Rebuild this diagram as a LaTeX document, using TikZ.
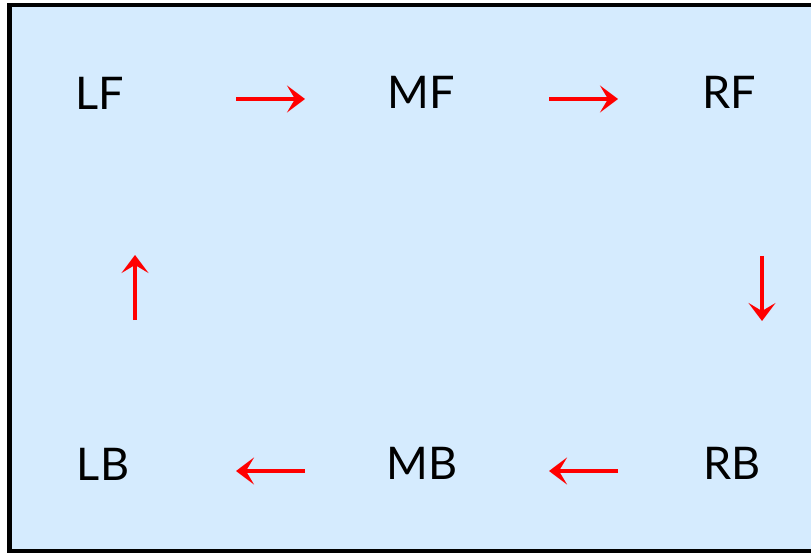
\documentclass[tikz,border=0pt]{standalone}
\usepackage{fontspec}
\setmainfont{Lato}
\usetikzlibrary{arrows.meta}
\definecolor{panelblue}{RGB}{213,235,254}
\definecolor{arrowred}{RGB}{255,0,0}
\tikzset{
  lbl/.style={font=\fontsize{45}{50}\selectfont, text=black, inner sep=0pt},
  flow/.style={draw=arrowred, line width=3.6pt, -{Stealth[length=18pt,width=27pt,inset=8pt]}}
}
\begin{document}
\begin{tikzpicture}[x=1pt,y=-1pt]
\useasboundingbox (0,0) rectangle (811,553);
\clip (0,0) rectangle (811,553);
\fill[white] (0,0) rectangle (811,553);
\draw[line width=4.5pt, fill=panelblue] (9.5,5) rectangle (840,551);
\node[lbl] (LF) at (100,93) {LF};
\node[lbl] (MF) at (421,92) {MF};
\node[lbl] (RF) at (729,92) {RF};
\node[lbl] (LB) at (103,464) {LB};
\node[lbl] (MB) at (422,463) {MB};
\node[lbl] (RB) at (732,463) {RB};
\coordinate (a1s) at (236,99);
\coordinate (a1e) at (305,99);
\coordinate (a2s) at (549,99);
\coordinate (a2e) at (618,99);
\coordinate (a3s) at (762,256);
\coordinate (a3e) at (762,321);
\coordinate (a4s) at (618,471);
\coordinate (a4e) at (549,471);
\coordinate (a5s) at (305,471);
\coordinate (a5e) at (236,471);
\coordinate (a6s) at (135,320);
\coordinate (a6e) at (135,255);
\draw[flow] (a1s) -- (a1e);
\draw[flow] (a2s) -- (a2e);
\draw[flow] (a3s) -- (a3e);
\draw[flow] (a4s) -- (a4e);
\draw[flow] (a5s) -- (a5e);
\draw[flow] (a6s) -- (a6e);
\end{tikzpicture}
\end{document}
